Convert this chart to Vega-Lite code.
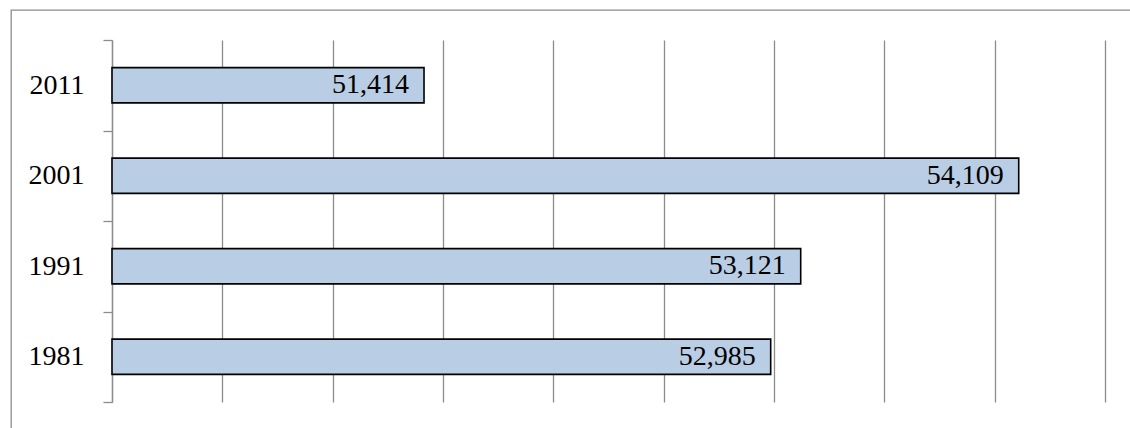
{
  "$schema": "https://vega.github.io/schema/vega-lite/v6.json",
  "usermeta": {"embedOptions": {"actions": false}},
  "autosize": {"type": "none"},
  "width": 1150,
  "height": 440,
  "padding": {"left": 11, "top": 10, "right": -31, "bottom": -22},
  "background": "white",
  "config": {
    "view": {"stroke": "#8c8c8c", "strokeWidth": 1.3}
  },
  "data": {
    "values": [
      {"year": "2011", "v": 51414},
      {"year": "2001", "v": 54109},
      {"year": "1991", "v": 53121},
      {"year": "1981", "v": 52985}
    ]
  },
  "encoding": {
    "y": {
      "field": "year",
      "type": "nominal",
      "sort": "descending",
      "scale": {"range": [30, 392], "paddingInner": 0, "paddingOuter": 0},
      "axis": {
        "title": null,
        "offset": -101,
        "tickBand": "extent",
        "tickSize": 9,
        "tickColor": "#8c8c8c",
        "tickWidth": 1.3,
        "domainColor": "#8c8c8c",
        "domainWidth": 1.3,
        "labelFont": "Liberation Serif",
        "labelFontSize": 28,
        "labelColor": "black",
        "labelPadding": 19
      }
    },
    "x": {
      "field": "v",
      "type": "quantitative",
      "scale": {"domain": [50000, 54500], "range": [101, 1094], "zero": false, "nice": false},
      "axis": {
        "orient": "top",
        "title": null,
        "labels": false,
        "ticks": false,
        "domain": false,
        "grid": true,
        "gridColor": "#8c8c8c",
        "gridWidth": 1.3,
        "values": [50000, 50500, 51000, 51500, 52000, 52500, 53000, 53500, 54000, 54500]
      }
    }
  },
  "layer": [
    {
      "mark": {"type": "bar", "height": {"band": 0.39}, "fill": "#b9cde5", "stroke": "black", "strokeWidth": 1.6},
      "encoding": {"x2": {"datum": 50000}}
    },
    {
      "mark": {"type": "text", "align": "right", "baseline": "middle", "dx": -15, "font": "Liberation Serif", "fontSize": 28, "color": "black"},
      "encoding": {"text": {"field": "v", "type": "quantitative", "format": ","}}
    }
  ]
}
